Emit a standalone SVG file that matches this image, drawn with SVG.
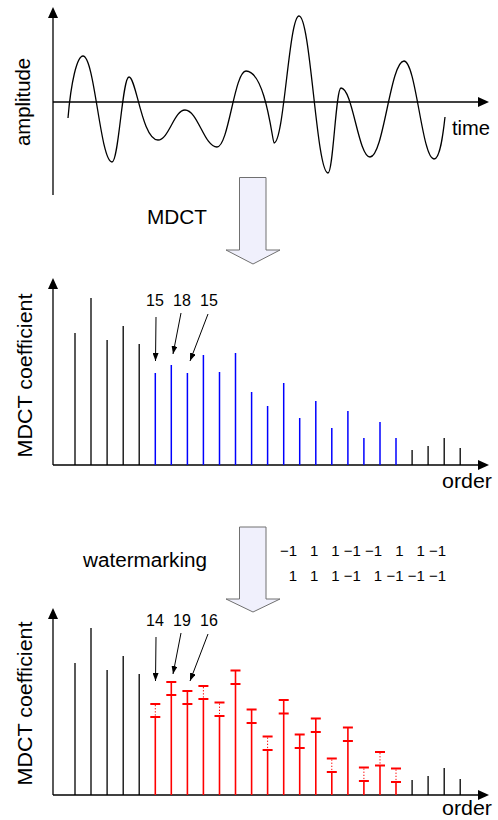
<svg xmlns="http://www.w3.org/2000/svg" width="498" height="820" viewBox="0 0 498 820">
<style>
.ax{stroke:#000;stroke-width:1.3;fill:none}
.ah{fill:#000;stroke:none}
.bk{stroke:#000;stroke-width:1.3}
.bl{stroke:#0000ff;stroke-width:1.5}
.rd{stroke:#ff0000;stroke-width:1.6}
.tk{stroke:#ff0000;stroke-width:2}
.dt{stroke:#ff0000;stroke-width:1;stroke-dasharray:1.3 1.8}
.wave{stroke:#000;stroke-width:1.3;fill:none}
.big{fill:#f0f0fc;stroke:#707070;stroke-width:1}
.ptr{stroke:#000;stroke-width:1;fill:none;marker-end:url(#tip)}
.t{font-family:"Liberation Sans",Arial,sans-serif;fill:#000}
.lab{font-size:20px}
.num{font-size:16px;text-anchor:middle}
.bit{font-size:15px;text-anchor:end}
</style>
<defs>
<marker id="tip" markerUnits="userSpaceOnUse" markerWidth="9" markerHeight="6" refX="8" refY="3" orient="auto">
<path d="M0,0 L8,3 L0,6 Z" fill="#000"/>
</marker>
</defs>

<g id="panel-waveform">
<line class="ax" x1="53" y1="195" x2="53" y2="16"/>
<polygon class="ah" points="53,7 48,18 58,18"/>
<line class="ax" x1="53" y1="102" x2="480" y2="102"/>
<polygon class="ah" points="489,102 478,97 478,107"/>
<path class="wave" d="M68,118 C71,82 77,56 83,56 C94.6,56 100.4,162 112,162 C118.8,162 122.2,77 129,77 C136.25,77 142.05,140 158,140 C168.8,140 174.2,110 185,110 C197.8,110 204.2,147 217,147 C228.6,147 234.4,71 246,71 C265.6,71 272.6,143 274,143 C284,143 289,16 299,16 C310.6,16 316.4,173 328,173 C333.2,173 335.8,88 341,88 C352.6,88 358.4,157 370,157 C383.6,157 390.4,61 404,61 C416,61 422,159 434,159 C440,159 443,135 445,117"/>
<text class="t lab" transform="translate(30,102) rotate(-90)" text-anchor="middle" textLength="88" lengthAdjust="spacingAndGlyphs">amplitude</text>
<text class="t lab" x="452" y="135" textLength="38" lengthAdjust="spacingAndGlyphs">time</text>
</g>

<g id="panel-mdct">
<line class="ax" x1="53" y1="465" x2="53" y2="287"/>
<polygon class="ah" points="53,278 48,289 58,289"/>
<line class="ax" x1="53" y1="465" x2="480" y2="465"/>
<polygon class="ah" points="489,465 478,460 478,470"/>
<g id="mdct-bars">
<line class="bk" x1="75" y1="465" x2="75" y2="333"/>
<line class="bk" x1="91" y1="465" x2="91" y2="298"/>
<line class="bk" x1="107.1" y1="465" x2="107.1" y2="340"/>
<line class="bk" x1="123.2" y1="465" x2="123.2" y2="326"/>
<line class="bk" x1="139.2" y1="465" x2="139.2" y2="344"/>
<line class="bl" x1="155.3" y1="465" x2="155.3" y2="373"/>
<line class="bl" x1="171.3" y1="465" x2="171.3" y2="365"/>
<line class="bl" x1="187.4" y1="465" x2="187.4" y2="373"/>
<line class="bl" x1="203.4" y1="465" x2="203.4" y2="355"/>
<line class="bl" x1="219.5" y1="465" x2="219.5" y2="372"/>
<line class="bl" x1="235.5" y1="465" x2="235.5" y2="353"/>
<line class="bl" x1="251.6" y1="465" x2="251.6" y2="392"/>
<line class="bl" x1="267.6" y1="465" x2="267.6" y2="406"/>
<line class="bl" x1="283.7" y1="465" x2="283.7" y2="383"/>
<line class="bl" x1="299.7" y1="465" x2="299.7" y2="418"/>
<line class="bl" x1="315.8" y1="465" x2="315.8" y2="401"/>
<line class="bl" x1="331.8" y1="465" x2="331.8" y2="428"/>
<line class="bl" x1="347.9" y1="465" x2="347.9" y2="411"/>
<line class="bl" x1="363.9" y1="465" x2="363.9" y2="438"/>
<line class="bl" x1="380" y1="465" x2="380" y2="422"/>
<line class="bl" x1="396" y1="465" x2="396" y2="438"/>
<line class="bk" x1="412.1" y1="465" x2="412.1" y2="450"/>
<line class="bk" x1="428.1" y1="465" x2="428.1" y2="446"/>
<line class="bk" x1="444.2" y1="465" x2="444.2" y2="438"/>
<line class="bk" x1="460.2" y1="465" x2="460.2" y2="448"/>
</g>
<text class="t" font-size="21" transform="translate(32,375.5) rotate(-90)" text-anchor="middle" textLength="164" lengthAdjust="spacingAndGlyphs">MDCT coefficient</text>
<text class="t lab" x="442" y="488" textLength="50" lengthAdjust="spacingAndGlyphs">order</text>
<text class="t num" x="155" y="306">15</text>
<text class="t num" x="182" y="306">18</text>
<text class="t num" x="209" y="306">15</text>
</g>

<g id="panel-watermarked">
<line class="ax" x1="53" y1="795" x2="53" y2="617"/>
<polygon class="ah" points="53,608 48,619 58,619"/>
<line class="ax" x1="53" y1="795" x2="480" y2="795"/>
<polygon class="ah" points="489,795 478,790 478,800"/>
<g id="wm-bars">
<line class="bk" x1="75" y1="795" x2="75" y2="663"/>
<line class="bk" x1="91" y1="795" x2="91" y2="628"/>
<line class="bk" x1="107.1" y1="795" x2="107.1" y2="670"/>
<line class="bk" x1="123.2" y1="795" x2="123.2" y2="656"/>
<line class="bk" x1="139.2" y1="795" x2="139.2" y2="674"/>

<line class="rd" x1="155.3" y1="795" x2="155.3" y2="717"/><line class="dt" x1="155.3" y1="705" x2="155.3" y2="716"/><line class="tk" x1="150.3" y1="704" x2="160.3" y2="704"/><line class="tk" x1="150.3" y1="717" x2="160.3" y2="717"/>
<line class="rd" x1="171.3" y1="795" x2="171.3" y2="682"/><line class="tk" x1="166.3" y1="682" x2="176.3" y2="682"/><line class="tk" x1="166.3" y1="695" x2="176.3" y2="695"/>
<line class="rd" x1="187.4" y1="795" x2="187.4" y2="691"/><line class="tk" x1="182.4" y1="691" x2="192.4" y2="691"/><line class="tk" x1="182.4" y1="704" x2="192.4" y2="704"/>
<line class="rd" x1="203.4" y1="795" x2="203.4" y2="699"/><line class="dt" x1="203.4" y1="687" x2="203.4" y2="698"/><line class="tk" x1="198.4" y1="686" x2="208.4" y2="686"/><line class="tk" x1="198.4" y1="699" x2="208.4" y2="699"/>
<line class="rd" x1="219.5" y1="795" x2="219.5" y2="716"/><line class="dt" x1="219.5" y1="703.5" x2="219.5" y2="715"/><line class="tk" x1="214.5" y1="702.5" x2="224.5" y2="702.5"/><line class="tk" x1="214.5" y1="716" x2="224.5" y2="716"/>
<line class="rd" x1="235.5" y1="795" x2="235.5" y2="670.5"/><line class="tk" x1="230.5" y1="670.5" x2="240.5" y2="670.5"/><line class="tk" x1="230.5" y1="684" x2="240.5" y2="684"/>
<line class="rd" x1="251.6" y1="795" x2="251.6" y2="709.5"/><line class="tk" x1="246.6" y1="709.5" x2="256.6" y2="709.5"/><line class="tk" x1="246.6" y1="723" x2="256.6" y2="723"/>
<line class="rd" x1="267.6" y1="795" x2="267.6" y2="750"/><line class="dt" x1="267.6" y1="737.5" x2="267.6" y2="749"/><line class="tk" x1="262.6" y1="736.5" x2="272.6" y2="736.5"/><line class="tk" x1="262.6" y1="750" x2="272.6" y2="750"/>
<line class="rd" x1="283.7" y1="795" x2="283.7" y2="700"/><line class="tk" x1="278.7" y1="700" x2="288.7" y2="700"/><line class="tk" x1="278.7" y1="713.5" x2="288.7" y2="713.5"/>
<line class="rd" x1="299.7" y1="795" x2="299.7" y2="734.5"/><line class="tk" x1="294.7" y1="734.5" x2="304.7" y2="734.5"/><line class="tk" x1="294.7" y1="748" x2="304.7" y2="748"/>
<line class="rd" x1="315.8" y1="795" x2="315.8" y2="718.5"/><line class="tk" x1="310.8" y1="718.5" x2="320.8" y2="718.5"/><line class="tk" x1="310.8" y1="732" x2="320.8" y2="732"/>
<line class="rd" x1="331.8" y1="795" x2="331.8" y2="772"/><line class="dt" x1="331.8" y1="759.5" x2="331.8" y2="771"/><line class="tk" x1="326.8" y1="758.5" x2="336.8" y2="758.5"/><line class="tk" x1="326.8" y1="772" x2="336.8" y2="772"/>
<line class="rd" x1="347.9" y1="795" x2="347.9" y2="727.5"/><line class="tk" x1="342.9" y1="727.5" x2="352.9" y2="727.5"/><line class="tk" x1="342.9" y1="741" x2="352.9" y2="741"/>
<line class="rd" x1="363.9" y1="795" x2="363.9" y2="781"/><line class="dt" x1="363.9" y1="768.5" x2="363.9" y2="780"/><line class="tk" x1="358.9" y1="767.5" x2="368.9" y2="767.5"/><line class="tk" x1="358.9" y1="781" x2="368.9" y2="781"/>
<line class="rd" x1="380" y1="795" x2="380" y2="765.5"/><line class="dt" x1="380" y1="753" x2="380" y2="764.5"/><line class="tk" x1="375" y1="752" x2="385" y2="752"/><line class="tk" x1="375" y1="765.5" x2="385" y2="765.5"/>
<line class="rd" x1="396" y1="795" x2="396" y2="782"/><line class="dt" x1="396" y1="769.5" x2="396" y2="781"/><line class="tk" x1="391" y1="768.5" x2="401" y2="768.5"/><line class="tk" x1="391" y1="782" x2="401" y2="782"/>

<line class="bk" x1="412.1" y1="795" x2="412.1" y2="780"/>
<line class="bk" x1="428.1" y1="795" x2="428.1" y2="776"/>
<line class="bk" x1="444.2" y1="795" x2="444.2" y2="768"/>
<line class="bk" x1="460.2" y1="795" x2="460.2" y2="779"/>
</g>
<text class="t" font-size="21" transform="translate(32,703.5) rotate(-90)" text-anchor="middle" textLength="164" lengthAdjust="spacingAndGlyphs">MDCT coefficient</text>
<text class="t lab" x="442" y="815" textLength="50" lengthAdjust="spacingAndGlyphs">order</text>
<text class="t num" x="155" y="626">14</text>
<text class="t num" x="182" y="626">19</text>
<text class="t num" x="209" y="626">16</text>
</g>

<g id="step-mdct">
<path class="big" d="M239.5,177.5 H266 V250 H280 L253,264 L226,250 H239.5 Z"/>
<text class="t lab" x="147" y="224" textLength="60" lengthAdjust="spacingAndGlyphs">MDCT</text>
</g>

<g id="step-watermarking">
<path class="big" d="M239.5,527 H266 V599 H280 L253,612 L226,599 H239.5 Z"/>
<text class="t lab" x="83" y="567" textLength="124" lengthAdjust="spacingAndGlyphs">watermarking</text>
<g id="watermark-bits">
<text class="t bit" x="297" y="556">−1</text>
<text class="t bit" x="318.3" y="556">1</text>
<text class="t bit" x="339.6" y="556">1</text>
<text class="t bit" x="360.9" y="556">−1</text>
<text class="t bit" x="382.2" y="556">−1</text>
<text class="t bit" x="403.5" y="556">1</text>
<text class="t bit" x="424.8" y="556">1</text>
<text class="t bit" x="446.1" y="556">−1</text>
<text class="t bit" x="297" y="581">1</text>
<text class="t bit" x="318.3" y="581">1</text>
<text class="t bit" x="339.6" y="581">1</text>
<text class="t bit" x="360.9" y="581">−1</text>
<text class="t bit" x="382.2" y="581">1</text>
<text class="t bit" x="403.5" y="581">−1</text>
<text class="t bit" x="424.8" y="581">−1</text>
<text class="t bit" x="446.1" y="581">−1</text>
</g>
</g>

<g id="connectors">
<line class="ptr" x1="156" y1="317" x2="155.5" y2="361"/>
<line class="ptr" x1="181" y1="313" x2="173" y2="354"/>
<line class="ptr" x1="208" y1="314" x2="190" y2="361"/>
<line class="ptr" x1="156" y1="637" x2="155.5" y2="681"/>
<line class="ptr" x1="181" y1="633" x2="173" y2="674"/>
<line class="ptr" x1="208" y1="634" x2="190" y2="681"/>
</g>
</svg>
